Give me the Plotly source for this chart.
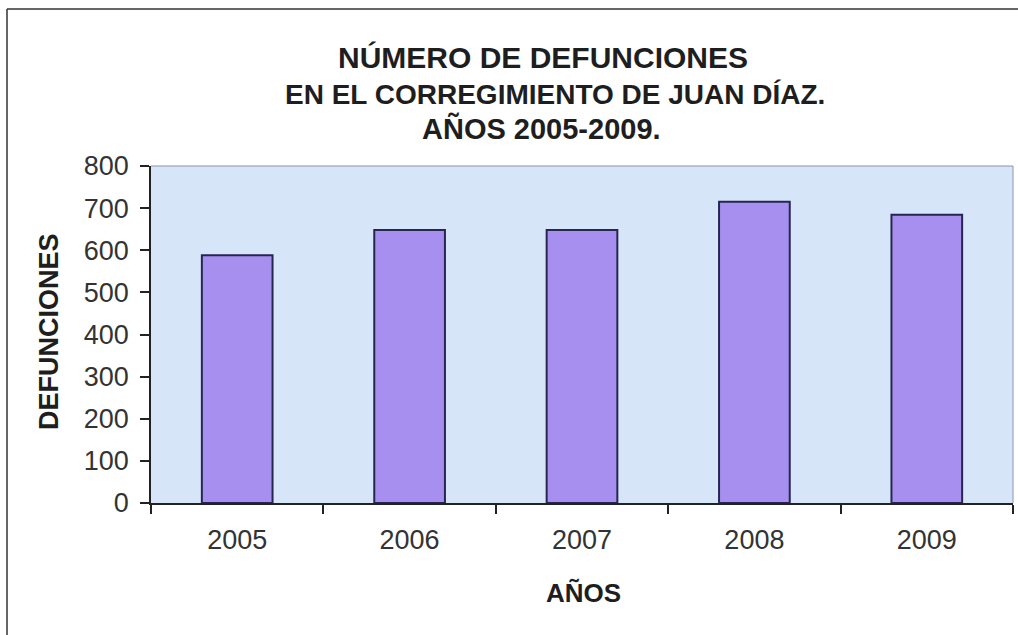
import plotly.graph_objects as go

years = ["2005", "2006", "2007", "2008", "2009"]
deaths = [588, 648, 648, 715, 684]
y_ticks = [0, 100, 200, 300, 400, 500, 600, 700, 800]
title_lines = ["NÚMERO DE DEFUNCIONES", "EN EL CORREGIMIENTO DE JUAN DÍAZ.", "AÑOS 2005-2009."]
x_title = "AÑOS"
y_title = "DEFUNCIONES"

W, H = 1018, 635
L, R, T, B = 151, 5, 166, 132
pw, ph = W - L - R, H - T - B

def px(x):
    return (x - L) / pw

def py(y):
    return (H - B - y) / ph

FONT = "Liberation Sans, Arial, sans-serif"

fig = go.Figure()
fig.add_trace(go.Bar(
    x=years, y=deaths,
    marker=dict(color="#a78ff0", line=dict(color="#262650", width=2)),
    width=0.41,
))

title_pos = [(543, 57), (555, 95), (541, 128)]
title_sizes = [30, 28, 29]
for txt, (cx, cy), sz in zip(title_lines, title_pos, title_sizes):
    fig.add_annotation(text=f"<b>{txt}</b>", x=px(cx), y=py(cy), xref="paper", yref="paper",
                       showarrow=False, xanchor="center", yanchor="middle",
                       font=dict(family=FONT, size=sz, color="#1e1e1e"))

fig.add_annotation(text=f"<b>{x_title}</b>", x=px(583), y=py(593), xref="paper", yref="paper",
                   showarrow=False, xanchor="center", yanchor="middle",
                   font=dict(family=FONT, size=26, color="#1e1e1e"))
fig.add_annotation(text=f"<b>{y_title}</b>", x=px(49), y=py(332), xref="paper", yref="paper",
                   showarrow=False, xanchor="center", yanchor="middle", textangle=-90,
                   font=dict(family=FONT, size=27, color="#1e1e1e"))

# outer chart frame (left and top edges visible)
fig.add_shape(type="line", xref="paper", yref="paper", x0=px(7), x1=px(7), y0=py(640), y1=py(9),
              line=dict(color="#333333", width=1.5), layer="below")
fig.add_shape(type="line", xref="paper", yref="paper", x0=px(7), x1=px(1025), y0=py(9), y1=py(9),
              line=dict(color="#333333", width=1.5), layer="below")

fig.update_layout(
    width=W, height=H,
    margin=dict(l=L, r=R, t=T, b=B),
    paper_bgcolor="white",
    plot_bgcolor="#d6e5f8",
    showlegend=False,
    font=dict(family=FONT, color="#333333"),
)
fig.update_xaxes(
    type="category", tickson="boundaries", ticks="outside", ticklen=9, tickwidth=1.5,
    tickcolor="#222222", showline=True, linecolor="#222222", linewidth=1.5,
    showgrid=False, tickfont=dict(size=27, color="#333333"), ticklabelstandoff=12,
)
fig.update_yaxes(
    range=[0, 800], tickvals=y_ticks, ticks="outside", ticklen=9, tickwidth=1.5,
    tickcolor="#222222", showline=True, linecolor="#222222", linewidth=1.5,
    showgrid=False, zeroline=False, tickfont=dict(size=27, color="#333333"),
    ticklabelstandoff=6,
)
# thin border around top and right of plot area
fig.add_shape(type="line", xref="paper", yref="paper", x0=0, x1=1, y0=1, y1=1,
              line=dict(color="#8a94b0", width=1))
fig.add_shape(type="line", xref="paper", yref="paper", x0=1, x1=1, y0=0, y1=1,
              line=dict(color="#8a94b0", width=1))

fig.write_html("out.html", config={"displayModeBar": False},
               post_script="document.body.style.margin='0';document.body.style.overflow='hidden';")
